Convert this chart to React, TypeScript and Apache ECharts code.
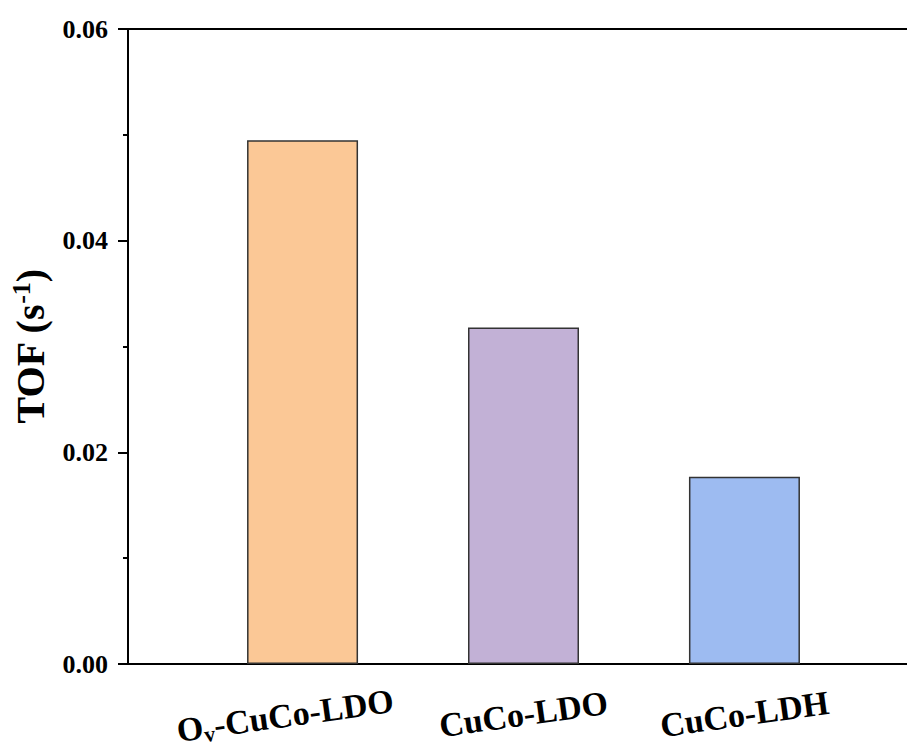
import React, { useEffect, useRef } from "react";
import * as echarts from "echarts";

const categories = ["Ov-CuCo-LDO", "CuCo-LDO", "CuCo-LDH"];
const positions = [1, 2, 3];
const tofValues = [0.0495, 0.0318, 0.0177];
const barColors = ["#FBC896", "#C2B1D6", "#9DBBF1"];
const yTicks = [0, 0.02, 0.04, 0.06];

const FONT = "'Liberation Serif', 'Times New Roman', serif";

function labelFor(v: number): string {
  const i = Math.round(v) - 1;
  if (i === 0) return "{t|O}{sub|v}{t|-CuCo-LDO}{sp| }";
  return "{n|" + categories[i] + "}";
}

export default function App() {
  const ref = useRef<HTMLDivElement>(null);
  useEffect(() => {
    document.body.style.margin = "0";
    document.body.style.overflow = "hidden";
    document.documentElement.style.overflow = "hidden";
    const chart = echarts.init(ref.current!, null, { renderer: "svg" });
    chart.setOption({
      animation: false,
      backgroundColor: "#ffffff",
      grid: {
        left: 128,
        top: 29,
        width: 791,
        height: 635,
        containLabel: false,
        outerBoundsMode: "none",
        show: false,
      },
      xAxis: [
        {
          type: "value",
          min: 0.21,
          max: 3.79,
          splitLine: { show: false },
          axisLine: { show: true, lineStyle: { color: "#000", width: 2 } },
          axisTick: { show: false },
          axisLabel: {
            customValues: positions,
            formatter: (v: number) => labelFor(v),
            rotate: 8,
            align: "center",
            verticalAlign: "middle",
            margin: 50,
            rich: {
              n: { fontFamily: FONT, fontWeight: "bold", fontSize: 34, color: "#000", lineHeight: 34 },
              t: { fontFamily: FONT, fontWeight: "bold", fontSize: 34, color: "#000", lineHeight: 34, verticalAlign: "top" },
              sub: { fontFamily: FONT, fontWeight: "bold", fontSize: 22, color: "#000", lineHeight: 14, verticalAlign: "bottom" },
              sp: { width: 35, fontSize: 10, lineHeight: 36 },
            },
          },
        },
        {
          type: "value",
          position: "top",
          min: 0.21,
          max: 3.79,
          splitLine: { show: false },
          axisLine: { show: true, lineStyle: { color: "#000", width: 2 } },
          axisTick: { show: false },
          axisLabel: { show: false },
        },
      ],
      yAxis: {
        type: "value",
        min: yTicks[0],
        max: yTicks[yTicks.length - 1],
        interval: 0.02,
        splitLine: { show: false },
        axisLine: { show: true, lineStyle: { color: "#000", width: 2 } },
        axisTick: { show: true, length: 10, inside: false, lineStyle: { color: "#000", width: 2 } },
        minorTick: { show: true, splitNumber: 2, length: 5, lineStyle: { color: "#000", width: 2 } },
        axisLabel: {
          margin: 20,
          fontFamily: FONT,
          fontWeight: "bold",
          fontSize: 26,
          color: "#000",
          formatter: (v: number) => v.toFixed(2),
        },
        name: "{a|TOF (s}{sup|-1}{a|)}",
        nameLocation: "middle",
        nameGap: 76,
        nameTextStyle: {
          rich: {
            a: { fontFamily: FONT, fontWeight: "bold", fontSize: 40, color: "#000", lineHeight: 44 },
            sup: { fontFamily: FONT, fontWeight: "bold", fontSize: 26, color: "#000", lineHeight: 26, verticalAlign: "top" },
          },
        },
      },
      series: [
        {
          type: "bar",
          barWidth: 111,
          xAxisIndex: 0,
          data: positions.map((p, i) => ({
            value: [p, tofValues[i]],
            itemStyle: { color: barColors[i], borderColor: "#333", borderWidth: 1.5 },
          })),
        },
      ],
    });
    return () => chart.dispose();
  }, []);
  return <div ref={ref} style={{ width: 907, height: 751 }} />;
}
